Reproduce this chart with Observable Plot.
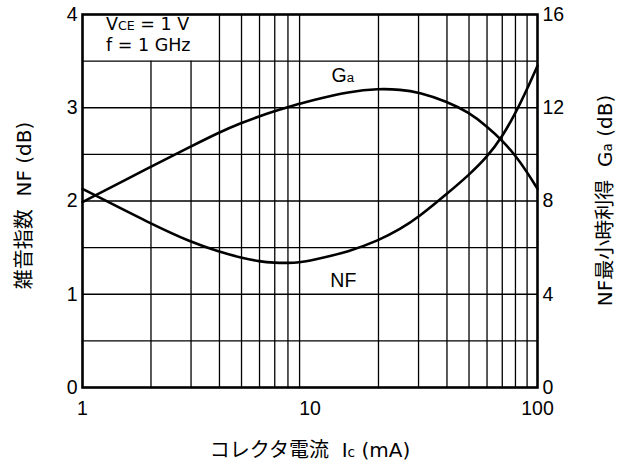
<!DOCTYPE html>
<html><head><meta charset="utf-8">
<script src="https://cdn.jsdelivr.net/npm/d3@7"></script>
<script src="https://cdn.jsdelivr.net/npm/@observablehq/plot@0.6"></script>
<style>
html,body{margin:0;padding:0;background:#fff}
svg{display:block}
</style>
</head><body><div id="chart"></div>
<script>
// Collector current Ic (mA)
const current = [1, 2, 3, 4, 5, 6, 7, 8, 9, 10, 15, 20, 25, 30, 40, 50, 60, 70, 80, 90, 100];
// Noise figure NF (dB), left axis
const nf = [2.13, 1.755, 1.558, 1.455, 1.39, 1.351, 1.337, 1.335, 1.342, 1.358, 1.46, 1.576, 1.70, 1.826, 2.077, 2.28, 2.47, 2.69, 2.94, 3.20, 3.45];
// Associated gain Ga (dB), right axis
const ga = [7.95, 9.48, 10.34, 10.95, 11.35, 11.64, 11.86, 12.03, 12.17, 12.30, 12.70, 12.82, 12.78, 12.67, 12.27, 11.80, 11.2, 10.6, 9.95, 9.24, 8.52];

const xTicks = [1, 10, 100];
const nfTicks = [0, 1, 2, 3, 4];
const gaPerNf = 4; // right axis: 0..16 dB over left 0..4 dB
const gridX = [2, 3, 4, 5, 6, 7, 8, 9, 20, 30, 40, 50, 60, 70, 80, 90];
const gridY = [0.5, 1, 1.5, 2, 2.5, 3, 3.5];
const noteBoxX2 = 3.4, noteBoxY1 = 3.5; // condition box in the upper-left corner

const rows = current.map((c, i) => ({c, nf: nf[i], ga: ga[i]}));

const tickFont = "'Liberation Sans', Arial, Helvetica, sans-serif";
const wideFont = "'DejaVu Sans', 'Noto Sans CJK JP', sans-serif";

const chart = Plot.plot({
  width: 619, height: 466,
  marginLeft: 82, marginRight: 82, marginTop: 14, marginBottom: 79,
  style: {fontFamily: tickFont, fontSize: "19.5px", color: "#000", background: "#fff", overflow: "visible"},
  x: {type: "log", domain: [1, 100]},
  y: {domain: [0, 4]},
  marks: [
    Plot.ruleX(gridX, {y1: 0, y2: d => d <= noteBoxX2 ? noteBoxY1 : 4, stroke: "#000", strokeWidth: 1.3}),
    Plot.ruleY(gridY, {stroke: "#000", strokeWidth: 1.3}),
    Plot.line(rows, {x: "c", y: "nf", curve: "basis", stroke: "#000", strokeWidth: 2.6}),
    Plot.line(rows, {x: "c", y: d => d.ga / gaPerNf, curve: "basis", stroke: "#000", strokeWidth: 2.6}),
    Plot.frame({stroke: "#000", strokeWidth: 2.6}),
    Plot.axisX({ticks: xTicks, tickSize: 0, tickPadding: 14, tickFormat: d => String(d), label: null, fontSize: 19.5}),
    Plot.axisY({anchor: "left", ticks: nfTicks, tickSize: 0, tickPadding: 5, tickFormat: d => String(d), label: null, fontSize: 19.5}),
    Plot.axisY({anchor: "right", ticks: nfTicks, tickSize: 0, tickPadding: 5, tickFormat: d => String(d * gaPerNf), label: null, fontSize: 19.5})
  ]
});
document.getElementById("chart").appendChild(chart);

const svg = d3.select(chart);
const sx = chart.scale("x"), sy = chart.scale("y");

function addText(parts, x, y, {size = 19.5, anchor = "start", rotate = 0, family = wideFont, subScale = 0.68} = {}) {
  const t = svg.append("text")
    .attr("font-family", family)
    .attr("font-size", size)
    .attr("fill", "#000")
    .attr("text-anchor", anchor)
    .attr("transform", `translate(${x},${y})` + (rotate ? ` rotate(${rotate})` : ""));
  for (const [s, small] of parts) {
    t.append("tspan").attr("font-size", small ? size * subScale : size).text(s);
  }
  return t;
}

// condition note
addText([["V"], ["CE", true], [" = 1 V"]], 106, 30, {size: 17.5, subScale: 0.72});
addText([["f = 1 GHz"]], 106, 51, {size: 17.5});

// curve labels
addText([["G"], ["a", true]], sx.apply(14.0), sy.apply(3.27), {anchor: "middle", family: tickFont});
addText([["NF"]], sx.apply(14.08), sy.apply(1.072), {anchor: "middle", family: tickFont});

// axis titles
const cy = (14 + 387) / 2;
addText([["雑音指数\u00a0\u00a0NF (dB)"]], 31, cy + 5, {rotate: -90, anchor: "middle", size: 20});
addText([["NF最小時利得\u00a0\u00a0G"], ["a", true], [" (dB)"]], 612, cy, {rotate: -90, anchor: "middle", size: 20});
addText([["コレクタ電流\u00a0\u00a0I"], ["c", true], [" (mA)"]], 310, 457, {anchor: "middle", size: 20});
</script>
</body></html>
